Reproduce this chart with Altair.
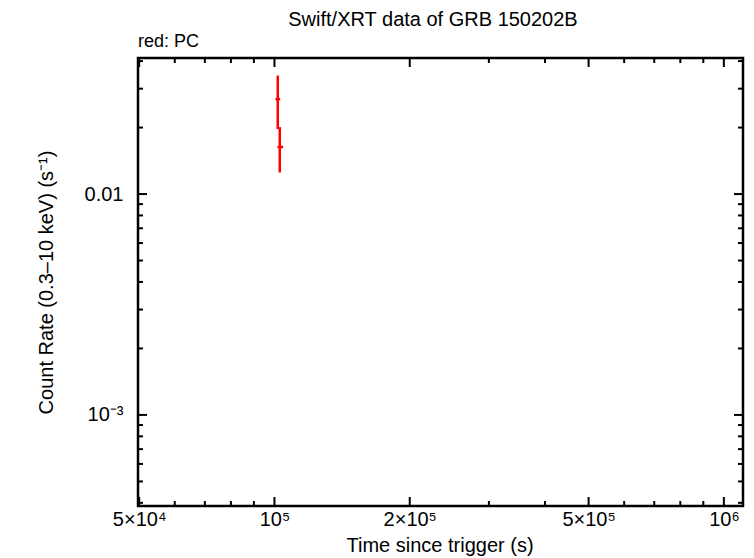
import altair as alt
import pandas as pd

# Data (Swift/XRT PC mode)
t_mid = [1.0171e5, 1.0275e5]
t_lo = [1.0051e5, 1.0155e5]
t_hi = [1.0296e5, 1.0456e5]
rate = [0.0269, 0.01633]
rate_lo = [0.0197, 0.01253]
rate_hi = [0.0344, 0.0201]

x_major = [5e4, 1e5, 2e5, 5e5, 1e6]
x_minor = [6e4, 7e4, 8e4, 9e4, 3e5, 4e5, 6e5, 7e5, 8e5, 9e5]
y_major = [1e-3, 1e-2]
y_minor = [4e-4, 5e-4, 6e-4, 7e-4, 8e-4, 9e-4,
           2e-3, 3e-3, 4e-3, 5e-3, 6e-3, 7e-3, 8e-3, 9e-3,
           2e-2, 3e-2, 4e-2]

X_DOMAIN = [4.97e4, 1.103e6]
Y_DOMAIN = [3.87e-4, 0.0413]
W, H = 605, 448
FONT = "Liberation Sans"
RED = "#ff0000"

df = pd.DataFrame({"t": t_mid, "tlo": t_lo, "thi": t_hi,
                   "rate": rate, "rlo": rate_lo, "rhi": rate_hi})

xscale = alt.Scale(type="log", domain=X_DOMAIN, nice=False)
yscale = alt.Scale(type="log", domain=Y_DOMAIN, nice=False)

x_label_expr = ("datum.value == 50000 ? '5×10⁴' : datum.value == 100000 ? '10⁵' : "
                "datum.value == 200000 ? '2×10⁵' : datum.value == 500000 ? '5×10⁵' : "
                "datum.value == 1000000 ? '10⁶' : ''")
y_label_expr = "datum.value == 0.01 ? '0.01' : datum.value == 0.001 ? '10⁻³' : ''"

xaxis = alt.Axis(values=x_major, labelExpr=x_label_expr, ticks=False, domain=False,
                 grid=False, labelFontSize=20, labelFont=FONT, labelColor="black",
                 labelPadding=3, title="Time since trigger (s)", titleFontSize=20,
                 titleFont=FONT, titleFontWeight="normal", titleColor="black",
                 titleX=W / 2 - 1, titleY=39, titleBaseline="middle", titleAlign="center",
                 labelFlush=False, labelOverlap=False)
yaxis = alt.Axis(values=y_major, labelExpr=y_label_expr, ticks=False, domain=False,
                 grid=False, labelFontSize=20, labelFont=FONT, labelColor="black",
                 labelPadding=15, title="Count Rate (0.3–10 keV) (s⁻¹)", titleFontSize=20,
                 titleFont=FONT, titleFontWeight="normal", titleColor="black",
                 titleX=-92, titleY=H / 2, titleBaseline="middle", titleAlign="center",
                 titleAngle=270, labelFlush=False, labelOverlap=False)

vbars = alt.Chart(df).mark_rule(color=RED, strokeWidth=2.5).encode(
    x=alt.X("t:Q", scale=xscale, axis=xaxis),
    y=alt.Y("rlo:Q", scale=yscale, axis=yaxis),
    y2="rhi:Q",
)
hbars = alt.Chart(df).mark_rule(color=RED, strokeWidth=2.5).encode(
    x=alt.X("tlo:Q", scale=xscale, axis=xaxis),
    x2="thi:Q",
    y=alt.Y("rate:Q", scale=yscale, axis=yaxis),
)

xt_major = pd.DataFrame({"v": x_major})
xt_minor = pd.DataFrame({"v": x_minor})
yt_major = pd.DataFrame({"v": y_major})
yt_minor = pd.DataFrame({"v": y_minor})


def xticks(data, length):
    base = alt.Chart(data).mark_rule(color="black", strokeWidth=2, clip=True)
    enc_x = alt.X("v:Q", scale=xscale, axis=xaxis)
    bottom = base.encode(x=enc_x, y=alt.value(H), y2=alt.value(H - length))
    top = base.encode(x=enc_x, y=alt.value(0), y2=alt.value(length))
    return [bottom, top]


def yticks(data, length):
    base = alt.Chart(data).mark_rule(color="black", strokeWidth=2, clip=True)
    enc_y = alt.Y("v:Q", scale=yscale, axis=yaxis)
    left = base.encode(y=enc_y, x=alt.value(0), x2=alt.value(length))
    right = base.encode(y=enc_y, x=alt.value(W), x2=alt.value(W - length))
    return [left, right]


tick_layers = (xticks(xt_major, 9) + xticks(xt_minor, 5)
               + yticks(yt_major, 9) + yticks(yt_minor, 5))

text_df = pd.DataFrame({"title": ["Swift/XRT data of GRB 150202B"], "sub": ["red: PC"]})
title_mark = alt.Chart(text_df).mark_text(
    font=FONT, fontSize=20, color="black", align="center", baseline="alphabetic"
).encode(text="title:N", x=alt.value(295), y=alt.value(-32))
sub_mark = alt.Chart(text_df).mark_text(
    font=FONT, fontSize=18, color="black", align="left", baseline="alphabetic"
).encode(text="sub:N", x=alt.value(0), y=alt.value(-11))

chart = alt.layer(vbars, hbars, *tick_layers, title_mark, sub_mark).properties(
    width=W, height=H,
    autosize=alt.AutoSizeParams(type="none"),
    padding={"left": 130, "top": 50, "right": 3, "bottom": 50},
    background="white",
).configure_view(stroke="black", strokeWidth=2.5)

chart.save("out.html", embed_options={"renderer": "svg", "actions": False})
